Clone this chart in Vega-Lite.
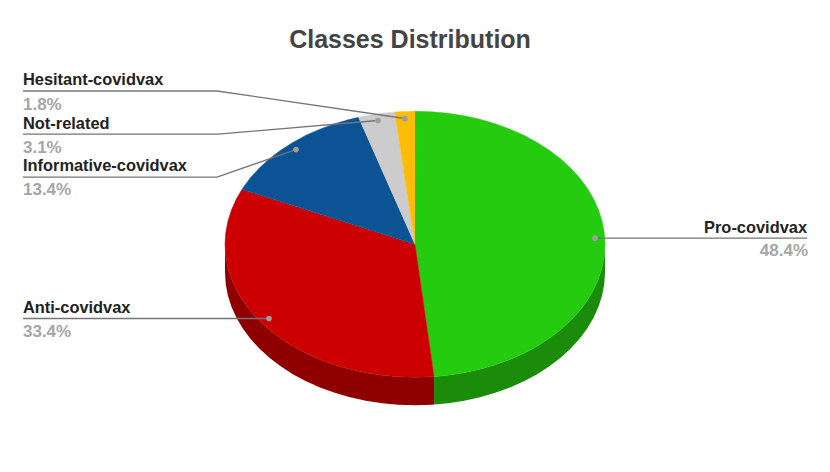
{
"$schema":"https://vega.github.io/schema/vega-lite/v6.json",
"width":830,"height":472,"padding":0,"autosize":{"type":"none"},
"background":"white",
"title":{"text":"Classes Distribution","anchor":"middle","orient":"top","frame":"group","offset":-48,"dx":-5,"dy":25,"baseline":"alphabetic","font":"Liberation Sans","fontSize":25,"fontWeight":"bold","color":"#444444"},
"config":{"view":{"stroke":null}},
"datasets":{
"walls":[
{"s":"Pro side","x":1,"y":0,"y2":-0.2105},
{"s":"Pro side","x":0.9962,"y":-0.0872,"y2":-0.2977},
{"s":"Pro side","x":0.9848,"y":-0.1736,"y2":-0.3841},
{"s":"Pro side","x":0.9659,"y":-0.2588,"y2":-0.4693},
{"s":"Pro side","x":0.9397,"y":-0.342,"y2":-0.5525},
{"s":"Pro side","x":0.9063,"y":-0.4226,"y2":-0.6331},
{"s":"Pro side","x":0.866,"y":-0.5,"y2":-0.7105},
{"s":"Pro side","x":0.8192,"y":-0.5736,"y2":-0.7841},
{"s":"Pro side","x":0.766,"y":-0.6428,"y2":-0.8533},
{"s":"Pro side","x":0.7071,"y":-0.7071,"y2":-0.9176},
{"s":"Pro side","x":0.6428,"y":-0.766,"y2":-0.9765},
{"s":"Pro side","x":0.5736,"y":-0.8192,"y2":-1.0297},
{"s":"Pro side","x":0.5,"y":-0.866,"y2":-1.0765},
{"s":"Pro side","x":0.4226,"y":-0.9063,"y2":-1.1168},
{"s":"Pro side","x":0.342,"y":-0.9397,"y2":-1.1502},
{"s":"Pro side","x":0.2588,"y":-0.9659,"y2":-1.1764},
{"s":"Pro side","x":0.1736,"y":-0.9848,"y2":-1.1953},
{"s":"Pro side","x":0.1004,"y":-0.9949,"y2":-1.2054},
{"s":"Anti side","x":0.1004,"y":-0.9949,"y2":-1.2054},
{"s":"Anti side","x":0.0872,"y":-0.9962,"y2":-1.2067},
{"s":"Anti side","x":0,"y":-1,"y2":-1.2105},
{"s":"Anti side","x":-0.0872,"y":-0.9962,"y2":-1.2067},
{"s":"Anti side","x":-0.1736,"y":-0.9848,"y2":-1.1953},
{"s":"Anti side","x":-0.2588,"y":-0.9659,"y2":-1.1764},
{"s":"Anti side","x":-0.342,"y":-0.9397,"y2":-1.1502},
{"s":"Anti side","x":-0.4226,"y":-0.9063,"y2":-1.1168},
{"s":"Anti side","x":-0.5,"y":-0.866,"y2":-1.0765},
{"s":"Anti side","x":-0.5736,"y":-0.8192,"y2":-1.0297},
{"s":"Anti side","x":-0.6428,"y":-0.766,"y2":-0.9765},
{"s":"Anti side","x":-0.7071,"y":-0.7071,"y2":-0.9176},
{"s":"Anti side","x":-0.766,"y":-0.6428,"y2":-0.8533},
{"s":"Anti side","x":-0.8192,"y":-0.5736,"y2":-0.7841},
{"s":"Anti side","x":-0.866,"y":-0.5,"y2":-0.7105},
{"s":"Anti side","x":-0.9063,"y":-0.4226,"y2":-0.6331},
{"s":"Anti side","x":-0.9397,"y":-0.342,"y2":-0.5525},
{"s":"Anti side","x":-0.9659,"y":-0.2588,"y2":-0.4693},
{"s":"Anti side","x":-0.9848,"y":-0.1736,"y2":-0.3841},
{"s":"Anti side","x":-0.9962,"y":-0.0872,"y2":-0.2977},
{"s":"Anti side","x":-1,"y":0,"y2":-0.2105}
],
"slices":[
{"s":"Pro","i":0,"x":0,"y":0},
{"s":"Pro","i":1,"x":0,"y":1},
{"s":"Pro","i":2,"x":0.0872,"y":0.9962},
{"s":"Pro","i":3,"x":0.1736,"y":0.9848},
{"s":"Pro","i":4,"x":0.2588,"y":0.9659},
{"s":"Pro","i":5,"x":0.342,"y":0.9397},
{"s":"Pro","i":6,"x":0.4226,"y":0.9063},
{"s":"Pro","i":7,"x":0.5,"y":0.866},
{"s":"Pro","i":8,"x":0.5736,"y":0.8192},
{"s":"Pro","i":9,"x":0.6428,"y":0.766},
{"s":"Pro","i":10,"x":0.7071,"y":0.7071},
{"s":"Pro","i":11,"x":0.766,"y":0.6428},
{"s":"Pro","i":12,"x":0.8192,"y":0.5736},
{"s":"Pro","i":13,"x":0.866,"y":0.5},
{"s":"Pro","i":14,"x":0.9063,"y":0.4226},
{"s":"Pro","i":15,"x":0.9397,"y":0.342},
{"s":"Pro","i":16,"x":0.9659,"y":0.2588},
{"s":"Pro","i":17,"x":0.9848,"y":0.1736},
{"s":"Pro","i":18,"x":0.9962,"y":0.0872},
{"s":"Pro","i":19,"x":1,"y":0},
{"s":"Pro","i":20,"x":0.9962,"y":-0.0872},
{"s":"Pro","i":21,"x":0.9848,"y":-0.1736},
{"s":"Pro","i":22,"x":0.9659,"y":-0.2588},
{"s":"Pro","i":23,"x":0.9397,"y":-0.342},
{"s":"Pro","i":24,"x":0.9063,"y":-0.4226},
{"s":"Pro","i":25,"x":0.866,"y":-0.5},
{"s":"Pro","i":26,"x":0.8192,"y":-0.5736},
{"s":"Pro","i":27,"x":0.766,"y":-0.6428},
{"s":"Pro","i":28,"x":0.7071,"y":-0.7071},
{"s":"Pro","i":29,"x":0.6428,"y":-0.766},
{"s":"Pro","i":30,"x":0.5736,"y":-0.8192},
{"s":"Pro","i":31,"x":0.5,"y":-0.866},
{"s":"Pro","i":32,"x":0.4226,"y":-0.9063},
{"s":"Pro","i":33,"x":0.342,"y":-0.9397},
{"s":"Pro","i":34,"x":0.2588,"y":-0.9659},
{"s":"Pro","i":35,"x":0.1736,"y":-0.9848},
{"s":"Pro","i":36,"x":0.1004,"y":-0.9949},
{"s":"Anti","i":0,"x":0,"y":0},
{"s":"Anti","i":1,"x":0.1004,"y":-0.9949},
{"s":"Anti","i":2,"x":0.0872,"y":-0.9962},
{"s":"Anti","i":3,"x":0,"y":-1},
{"s":"Anti","i":4,"x":-0.0872,"y":-0.9962},
{"s":"Anti","i":5,"x":-0.1736,"y":-0.9848},
{"s":"Anti","i":6,"x":-0.2588,"y":-0.9659},
{"s":"Anti","i":7,"x":-0.342,"y":-0.9397},
{"s":"Anti","i":8,"x":-0.4226,"y":-0.9063},
{"s":"Anti","i":9,"x":-0.5,"y":-0.866},
{"s":"Anti","i":10,"x":-0.5736,"y":-0.8192},
{"s":"Anti","i":11,"x":-0.6428,"y":-0.766},
{"s":"Anti","i":12,"x":-0.7071,"y":-0.7071},
{"s":"Anti","i":13,"x":-0.766,"y":-0.6428},
{"s":"Anti","i":14,"x":-0.8192,"y":-0.5736},
{"s":"Anti","i":15,"x":-0.866,"y":-0.5},
{"s":"Anti","i":16,"x":-0.9063,"y":-0.4226},
{"s":"Anti","i":17,"x":-0.9397,"y":-0.342},
{"s":"Anti","i":18,"x":-0.9659,"y":-0.2588},
{"s":"Anti","i":19,"x":-0.9848,"y":-0.1736},
{"s":"Anti","i":20,"x":-0.9962,"y":-0.0872},
{"s":"Anti","i":21,"x":-1,"y":0},
{"s":"Anti","i":22,"x":-0.9962,"y":0.0872},
{"s":"Anti","i":23,"x":-0.9848,"y":0.1736},
{"s":"Anti","i":24,"x":-0.9659,"y":0.2588},
{"s":"Anti","i":25,"x":-0.9397,"y":0.342},
{"s":"Anti","i":26,"x":-0.9101,"y":0.4144},
{"s":"Informative","i":0,"x":0,"y":0},
{"s":"Informative","i":1,"x":-0.9101,"y":0.4144},
{"s":"Informative","i":2,"x":-0.9063,"y":0.4226},
{"s":"Informative","i":3,"x":-0.866,"y":0.5},
{"s":"Informative","i":4,"x":-0.8192,"y":0.5736},
{"s":"Informative","i":5,"x":-0.766,"y":0.6428},
{"s":"Informative","i":6,"x":-0.7071,"y":0.7071},
{"s":"Informative","i":7,"x":-0.6428,"y":0.766},
{"s":"Informative","i":8,"x":-0.5736,"y":0.8192},
{"s":"Informative","i":9,"x":-0.5,"y":0.866},
{"s":"Informative","i":10,"x":-0.4226,"y":0.9063},
{"s":"Informative","i":11,"x":-0.342,"y":0.9397},
{"s":"Informative","i":12,"x":-0.297,"y":0.9549},
{"s":"Not-related","i":0,"x":0,"y":0},
{"s":"Not-related","i":1,"x":-0.297,"y":0.9549},
{"s":"Not-related","i":2,"x":-0.2588,"y":0.9659},
{"s":"Not-related","i":3,"x":-0.1736,"y":0.9848},
{"s":"Not-related","i":4,"x":-0.1066,"y":0.9943},
{"s":"Hesitant","i":0,"x":0,"y":0},
{"s":"Hesitant","i":1,"x":-0.1066,"y":0.9943},
{"s":"Hesitant","i":2,"x":-0.0872,"y":0.9962},
{"s":"Hesitant","i":3,"x":0,"y":1}
],
"leaders":[
{"s":"Hesitant","i":0,"x":-2.0632,"y":1.1526},
{"s":"Hesitant","i":1,"x":-1.0421,"y":1.1526},
{"s":"Hesitant","i":2,"x":-0.0526,"y":0.9459},
{"s":"Not-related","i":0,"x":-2.0632,"y":0.8278},
{"s":"Not-related","i":1,"x":-1.0368,"y":0.8278},
{"s":"Not-related","i":2,"x":-0.1947,"y":0.9308},
{"s":"Informative","i":0,"x":-2.0632,"y":0.5045},
{"s":"Informative","i":1,"x":-1.0421,"y":0.5045},
{"s":"Informative","i":2,"x":-0.6263,"y":0.7128},
{"s":"Anti","i":0,"x":-2.0632,"y":-0.5579},
{"s":"Anti","i":1,"x":-0.7684,"y":-0.5579},
{"s":"Pro","i":0,"x":2.0632,"y":0.0459},
{"s":"Pro","i":1,"x":0.9474,"y":0.0459}
],
"dots":[
{"x":-0.0526,"y":0.9459},
{"x":-0.1947,"y":0.9308},
{"x":-0.6263,"y":0.7128},
{"x":-0.7684,"y":-0.5579},
{"x":0.9474,"y":0.0459}
],
"namesLeft":[
{"t":"Hesitant-covidvax","x":-2.0632,"y":1.2015},
{"t":"Not-related","x":-2.0632,"y":0.8707},
{"t":"Informative-covidvax","x":-2.0632,"y":0.5549},
{"t":"Anti-covidvax","x":-2.0632,"y":-0.5128}
],
"pctLeft":[
{"t":"1.8%","x":-2.0632,"y":1.0135},
{"t":"3.1%","x":-2.0632,"y":0.6902},
{"t":"13.4%","x":-2.0632,"y":0.3744},
{"t":"33.4%","x":-2.0632,"y":-0.6932}
],
"nameRight":[{"t":"Pro-covidvax","x":2.0632,"y":0.0887}],
"pctRight":[{"t":"48.4%","x":2.0684,"y":-0.0842}]
},
"encoding":{
"x":{"field":"x","type":"quantitative","axis":null,"scale":{"domain":[-2.1842,2.1842],"nice":false,"zero":false}},
"y":{"field":"y","type":"quantitative","axis":null,"scale":{"domain":[-1.712,1.8369],"nice":false,"zero":false}}
},
"layer":[
{"data":{"name":"walls"},"mark":{"type":"area","clip":false},
 "encoding":{"y2":{"field":"y2"},
 "fill":{"field":"s","type":"nominal","legend":null,"scale":{"domain":["Pro side","Anti side","Pro","Anti","Informative","Not-related","Hesitant"],"range":["#1a8c09","#8e0000","#25cb0e","#cc0000","#0b5394","#cccccc","#fdbc08"]}}}},
{"data":{"name":"slices"},"mark":{"type":"line","strokeWidth":0.5,"strokeJoin":"round"},
 "encoding":{"order":{"field":"i","type":"quantitative"},
 "fill":{"field":"s","type":"nominal","legend":null,"scale":{"domain":["Pro side","Anti side","Pro","Anti","Informative","Not-related","Hesitant"],"range":["#1a8c09","#8e0000","#25cb0e","#cc0000","#0b5394","#cccccc","#fdbc08"]}},
 "stroke":{"field":"s","type":"nominal","legend":null,"scale":{"domain":["Pro side","Anti side","Pro","Anti","Informative","Not-related","Hesitant"],"range":["#1a8c09","#8e0000","#25cb0e","#cc0000","#0b5394","#cccccc","#fdbc08"]}}}},
{"data":{"name":"leaders"},"mark":{"type":"line","color":"#757575","strokeWidth":1.3},
 "encoding":{"order":{"field":"i","type":"quantitative"},"detail":{"field":"s"}}},
{"data":{"name":"dots"},"mark":{"type":"circle","size":32,"color":"#9e9e9e","opacity":1}},
{"data":{"name":"namesLeft"},"mark":{"type":"text","align":"left","baseline":"alphabetic","font":"Liberation Sans","fontSize":16.4,"fontWeight":"bold","color":"#222222"},"encoding":{"text":{"field":"t"}}},
{"data":{"name":"pctLeft"},"mark":{"type":"text","align":"left","baseline":"alphabetic","font":"Liberation Sans","fontSize":17,"fontWeight":"bold","color":"#a6a6a6"},"encoding":{"text":{"field":"t"}}},
{"data":{"name":"nameRight"},"mark":{"type":"text","align":"right","baseline":"alphabetic","font":"Liberation Sans","fontSize":16.4,"fontWeight":"bold","color":"#222222"},"encoding":{"text":{"field":"t"}}},
{"data":{"name":"pctRight"},"mark":{"type":"text","align":"right","baseline":"alphabetic","font":"Liberation Sans","fontSize":17,"fontWeight":"bold","color":"#a6a6a6"},"encoding":{"text":{"field":"t"}}}
]
}
